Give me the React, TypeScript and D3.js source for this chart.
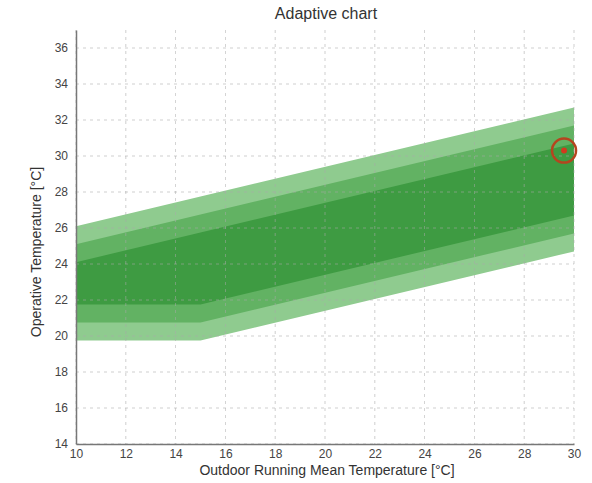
import React, { useEffect, useRef } from "react";
import * as d3 from "d3";

// outdoor running mean temperature breakpoints
const trm = [10, 15, 30];
// comfort band limits (operative temperature) at each breakpoint
const upperIII = [26.1, 27.75, 32.7];
const lowerIII = [19.75, 19.75, 24.7];
const upperII = [25.1, 26.75, 31.7];
const lowerII = [20.75, 20.75, 25.7];
const upperI = [24.1, 25.75, 30.7];
const lowerI = [21.75, 21.75, 26.7];
// current measured point
const pointX = [29.6];
const pointY = [30.3];

const xTicks = [10, 12, 14, 16, 18, 20, 22, 24, 26, 28, 30];
const yTicks = [14, 16, 18, 20, 22, 24, 26, 28, 30, 32, 34, 36];

function App() {
  const ref = useRef<SVGSVGElement>(null);

  useEffect(() => {
    const svg = d3.select(ref.current);
    svg.selectAll("*").remove();

    const width = 592;
    const height = 483;
    const margin = { top: 30, left: 76, bottom: 39, right: 18 };
    const iwidth = width - margin.left - margin.right;
    const iheight = height - margin.top - margin.bottom;
    const font = "Liberation Sans, Arial, sans-serif";

    const x = d3.scaleLinear().domain([10, 30]).range([0, iwidth]);
    const y = d3.scaleLinear().domain([14, 37]).range([iheight, 0]);

    svg
      .append("text")
      .attr("x", 326)
      .attr("y", 19)
      .attr("text-anchor", "middle")
      .style("font-family", font)
      .style("font-size", "16px")
      .style("fill", "#333")
      .text("Adaptive chart");

    const g = svg
      .append("g")
      .attr("transform", `translate(${margin.left}, ${margin.top})`);

    const area = d3.area<number>().x((d, i) => x(trm[i]));

    const bands = [
      { up: upperIII, low: lowerIII, color: "#8fcb8f" },
      { up: upperII, low: lowerII, color: "#62b263" },
      { up: upperI, low: lowerI, color: "#3e9b42" },
    ];

    bands.forEach((b) => {
      g.append("path")
        .datum(trm)
        .attr("d", area.y0((d, i) => y(b.low[i])).y1((d, i) => y(b.up[i])))
        .style("fill", b.color);
    });

    // grid
    g.append("g")
      .selectAll("line")
      .data(xTicks)
      .enter()
      .append("line")
      .attr("x1", (d) => x(d))
      .attr("x2", (d) => x(d))
      .attr("y1", 0)
      .attr("y2", iheight)
      .style("stroke", "#aaa")
      .style("stroke-width", 0.8)
      .style("stroke-dasharray", "3,4")
      .style("opacity", 0.7);

    g.append("g")
      .selectAll("line")
      .data(yTicks)
      .enter()
      .append("line")
      .attr("x1", 0)
      .attr("x2", iwidth)
      .attr("y1", (d) => y(d))
      .attr("y2", (d) => y(d))
      .style("stroke", "#aaa")
      .style("stroke-width", 0.8)
      .style("stroke-dasharray", "3,4")
      .style("opacity", 0.7);

    // measured point
    const pts = pointX.map((v, i) => ({ x: v, y: pointY[i] }));
    g.selectAll(".ring")
      .data(pts)
      .enter()
      .append("circle")
      .attr("cx", (d) => x(d.x))
      .attr("cy", (d) => y(d.y))
      .attr("r", 12)
      .style("fill", "none")
      .style("stroke", "#b5451f")
      .style("stroke-width", 2.5);
    g.selectAll(".dot")
      .data(pts)
      .enter()
      .append("circle")
      .attr("cx", (d) => x(d.x))
      .attr("cy", (d) => y(d.y))
      .attr("r", 3)
      .style("fill", "#d23a1e");

    const xAxis = g
      .append("g")
      .attr("transform", `translate(0, ${iheight})`)
      .call(d3.axisBottom(x).tickValues(xTicks).tickSize(0).tickPadding(5));

    const yAxis = g
      .append("g")
      .call(d3.axisLeft(y).tickValues(yTicks).tickSize(0).tickPadding(8));

    [xAxis, yAxis].forEach((a) => {
      a.select(".domain").style("stroke", "#777").style("stroke-width", 1.5);
      a.selectAll("text")
        .style("font-family", font)
        .style("font-size", "12px")
        .style("fill", "#444");
    });

    svg
      .append("text")
      .attr("x", 327)
      .attr("y", 475)
      .attr("text-anchor", "middle")
      .style("font-family", font)
      .style("font-size", "14px")
      .style("fill", "#333")
      .text("Outdoor Running Mean Temperature [°C]");

    svg
      .append("text")
      .attr("transform", `translate(41, 252) rotate(-90)`)
      .attr("text-anchor", "middle")
      .style("font-family", font)
      .style("font-size", "14px")
      .style("fill", "#333")
      .text("Operative Temperature [°C]");
  }, []);

  return (
    <svg
      ref={ref}
      width={592}
      height={483}
      style={{ position: "absolute", left: 0, top: 0, background: "#fff" }}
    />
  );
}

export default App;
